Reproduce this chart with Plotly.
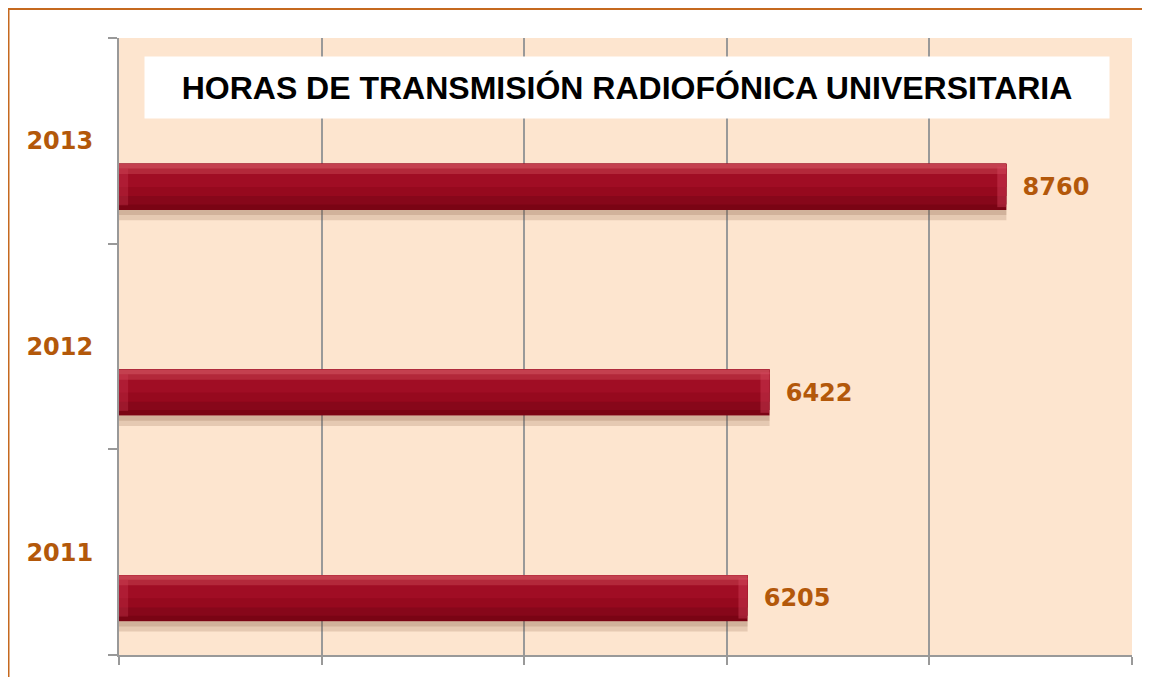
import plotly.graph_objects as go

years = ["2011", "2012", "2013"]
hours = [6205, 6422, 8760]
title_text = "HORAS DE TRANSMISIÓN RADIOFÓNICA UNIVERSITARIA"
x_ticks = [0, 2000, 4000, 6000, 8000, 10000]

# the page body adds an 8px offset; size the figure so the plot lands where the reference is
OFF = 8
W, H = 1150 - OFF, 677 - OFF
ML, MR, MT, MB = 119 - OFF, 18, 38 - OFF, 22
PW, PH = W - ML - MR, H - MT - MB

brown = "#b3580a"
lab_font = dict(family="DejaVu Sans", size=24, color=brown, weight="bold")

fig = go.Figure()

bar_off = -0.336
bar_w = 0.224

# shadow under bar
fig.add_trace(go.Bar(y=years, x=hours, orientation="h", offset=bar_off - 0.05, width=0.05,
                     marker=dict(color="rgba(120,80,50,0.18)", line=dict(width=0)),
                     hoverinfo="skip", showlegend=False))
fig.add_trace(go.Bar(y=years, x=hours, orientation="h", offset=bar_off - 0.025, width=0.025,
                     marker=dict(color="rgba(120,80,50,0.18)", line=dict(width=0)),
                     hoverinfo="skip", showlegend=False))
# main bar body (layers for gradient)
layers = [
    (0.00, 1.00, "#7a0414"),
    (0.12, 0.88, "#87071a"),
    (0.30, 0.70, "#96091e"),
    (0.50, 0.50, "#a00d24"),
    (0.78, 0.16, "#b3283a"),
    (0.90, 0.10, "#c4404f"),
]
for start, frac, col in layers:
    fig.add_trace(go.Bar(y=years, x=hours, orientation="h",
                         offset=bar_off + start * bar_w, width=frac * bar_w,
                         marker=dict(color=col, line=dict(width=0)),
                         hoverinfo="skip", showlegend=False))
# right bevel cap
cap = 90
fig.add_trace(go.Bar(y=years, x=[cap] * len(hours), base=[h - cap for h in hours], orientation="h",
                     offset=bar_off + 0.06 * bar_w, width=0.88 * bar_w,
                     marker=dict(color="rgba(215,70,95,0.40)", line=dict(width=0)),
                     hoverinfo="skip", showlegend=False))
# left bevel cap
fig.add_trace(go.Bar(y=years, x=[cap] * len(hours), orientation="h",
                     offset=bar_off + 0.1 * bar_w, width=0.8 * bar_w,
                     marker=dict(color="rgba(215,70,95,0.28)", line=dict(width=0)),
                     hoverinfo="skip", showlegend=False))
# value labels
fig.add_trace(go.Bar(y=years, x=hours, orientation="h", offset=bar_off, width=bar_w,
                     marker=dict(color="rgba(0,0,0,0)", line=dict(width=0)),
                     text=[f" \u2009{v}" for v in hours], textposition="outside",
                     textfont=lab_font, cliponaxis=False,
                     hoverinfo="skip", showlegend=False))

fig.update_layout(
    width=W, height=H, barmode="overlay",
    margin=dict(l=ML, r=MR, t=MT, b=MB),
    paper_bgcolor="white", plot_bgcolor="#fde5cf",
    showlegend=False,
    xaxis=dict(range=[0, 10000], tickvals=x_ticks, showticklabels=False,
               showgrid=True, gridcolor="#999999", gridwidth=1.5,
               ticks="outside", ticklen=8, tickcolor="#999999", tickwidth=2,
               showline=True, linecolor="#999999", linewidth=2, zeroline=False),
    yaxis=dict(type="category", categoryorder="array", categoryarray=years,
               tickson="boundaries", ticks="outside", ticklen=9, tickcolor="#999999", tickwidth=2,
               showline=True, linecolor="#999999", linewidth=2, showgrid=False,
               tickfont=lab_font, ticklabelstandoff=19, range=[-0.5, 2.5]),
    shapes=[dict(type="rect", xref="paper", yref="paper",
                 x0=(8.5 - 119) / PW, x1=1.2, y0=-0.2, y1=(655 - 9) / PH,
                 line=dict(color="#c5691f", width=2), fillcolor="rgba(0,0,0,0)", layer="below")],
    annotations=[dict(text="<b>" + title_text + "</b>", xref="paper", yref="paper",
                      x=(627 - 119) / PW, y=(655 - 87.5) / PH, xanchor="center", yanchor="middle",
                      showarrow=False, bgcolor="white", width=962, height=59,
                      font=dict(family="Liberation Sans", size=32, color="black"))],
)

fig.write_html("out.html")
